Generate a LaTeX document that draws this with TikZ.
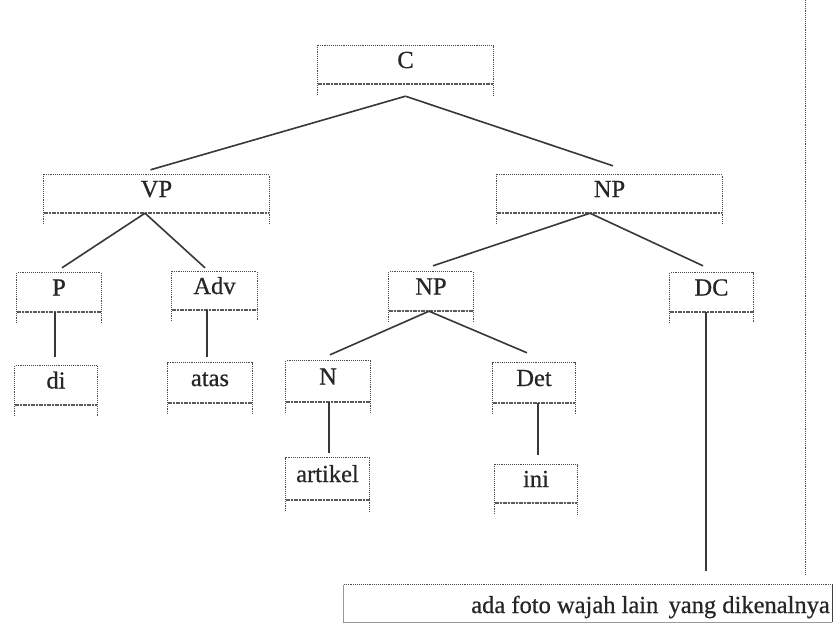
\documentclass[tikz,border=0pt]{standalone}
\usepackage{fontspec}
\setmainfont{Liberation Serif}
\newfontface\treefont{Liberation Serif}[FakeBold=0.6]
\tikzset{
  tb/.style={minimum width=#1, minimum height=38pt, inner sep=0pt,
    text height=16pt, text depth=10pt, text=black!85, font=\treefont\fontsize{24.5}{27}\selectfont},
  dotln/.style={black!70, line width=1pt, dash pattern=on 1pt off 0.9pt},
  botln/.style={black!65, line width=2pt, dash pattern=on 1.2pt off 0.4pt},
  edge/.style={black!78, line width=1.6pt},
}
\newcommand\frameit[1]{%
  \draw[dotln] ([yshift=-11pt]#1.south west) -- (#1.north west) -- (#1.north east) -- ([yshift=-11pt]#1.south east);
  \draw[botln] (#1.south west) -- (#1.south east);}
\begin{document}
\begin{tikzpicture}[x=1pt,y=-1pt]
\useasboundingbox[fill=white] (0,0) rectangle (835,624);
% nodes
\node[tb=175pt] (C) at (405.5,65) {C};
\node[tb=225pt] (VP) at (156.5,194) {VP};
\node[tb=225pt] (NPr) at (609.5,194) {NP};
\node[tb=84pt, minimum height=39pt] (P) at (59,292.5) {P};
\node[tb=85pt] (Adv) at (214.5,291) {Adv};
\node[tb=84pt, minimum height=39pt] (NPl) at (431,291.5) {NP};
\node[tb=83pt, minimum height=39pt] (DC) at (711.5,292.5) {DC};
\node[tb=82pt, minimum height=39pt] (di) at (56,385.5) {di};
\node[tb=84pt, minimum height=40pt] (atas) at (210,383) {atas};
\node[tb=84pt, minimum height=41pt] (N) at (328,381.5) {N};
\node[tb=82pt, minimum height=40pt] (Det) at (534,383) {Det};
\node[tb=83pt, minimum height=42pt] (artikel) at (327.5,479) {artikel};
\node[tb=82pt] (ini) at (536,484) {ini};
\foreach \n in {C,VP,NPr,P,Adv,NPl,DC,di,atas,N,Det,artikel,ini} {\frameit{\n}}
% bottom box
\node[minimum width=488pt, minimum height=37pt, inner sep=0pt] (S) at (588,603.5) {};
\draw[black!40, line width=1pt] (S.north west) -- (S.south west) -- (S.south east);
\draw[black!75, line width=1pt] (S.south east) -- (S.north east);
\draw[dotln] (S.north west) -- (S.north east);
\node[anchor=base east, inner sep=0pt, text=black!85, font=\treefont\fontsize{24.5}{27}\selectfont] (St) at (830,613) {ada foto wajah lain\, yang dikenalnya};
% dotted vertical line
\coordinate (vtop) at (805,0);
\coordinate (vbot) at (805,575);
\draw[dotln] (vtop) -- (vbot);
% connectors
\draw[edge] ([yshift=-12pt]C.south) -- ([xshift=-6pt,yshift=5pt]VP.north);
\draw[edge] ([yshift=-12pt]C.south) -- ([xshift=3.5pt,yshift=9pt]NPr.north);
\draw[edge] ([xshift=-11.5pt]VP.south) -- ([xshift=3pt,yshift=5pt]P.north);
\draw[edge] ([xshift=-11.5pt]VP.south) -- ([xshift=-9.5pt,yshift=4pt]Adv.north);
\draw[edge] ([xshift=-19.5pt]NPr.south) -- ([xshift=2pt,yshift=6pt]NPl.north);
\draw[edge] ([xshift=-19.5pt]NPr.south) -- ([xshift=-8.5pt,yshift=7pt]DC.north);
\draw[edge] ([xshift=-2pt]NPl.south) -- ([xshift=2pt,yshift=6pt]N.north);
\draw[edge] ([xshift=-2pt]NPl.south) -- ([xshift=-7pt,yshift=10pt]Det.north);
\draw[edge, shorten >=9pt] ([xshift=-4pt]P.south) -- ([xshift=-4pt]P.south |- di.north);
\draw[edge, shorten >=6pt] ([xshift=-7.5pt]Adv.south) -- ([xshift=-7.5pt]Adv.south |- atas.north);
\draw[edge, shorten >=5pt] ([xshift=1pt]N.south) -- ([xshift=1pt]N.south |- artikel.north);
\draw[edge, shorten >=10pt] ([xshift=4pt]Det.south) -- ([xshift=4pt]Det.south |- ini.north);
\draw[edge, shorten >=14pt] ([xshift=-5.5pt]DC.south) -- ([xshift=-5.5pt]DC.south |- S.north);
\end{tikzpicture}
\end{document}
